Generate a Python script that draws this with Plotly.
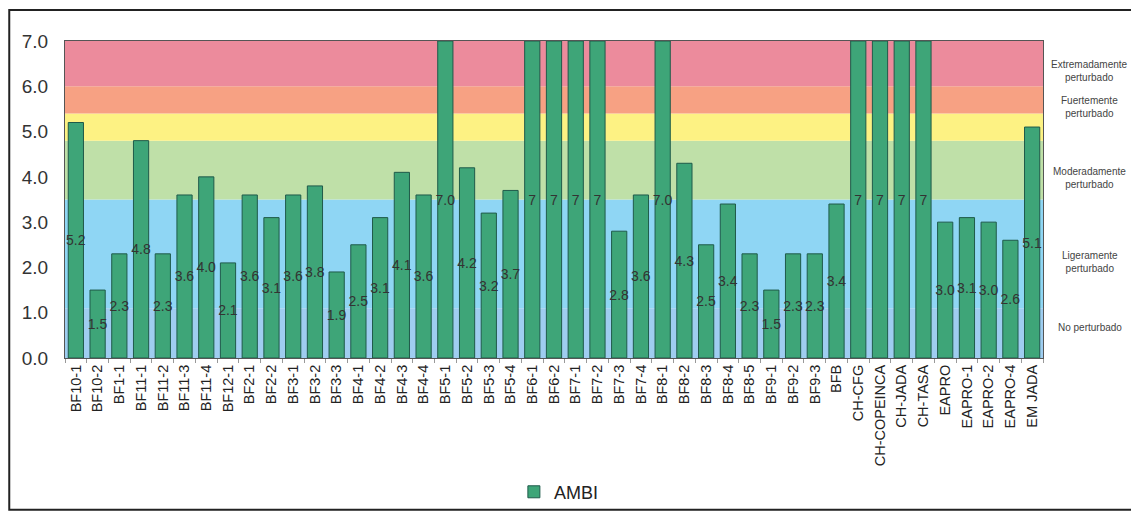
import plotly.graph_objects as go

categories = ["BF10-1", "BF10-2", "BF1-1", "BF11-1", "BF11-2", "BF11-3", "BF11-4", "BF12-1",
              "BF2-1", "BF2-2", "BF3-1", "BF3-2", "BF3-3", "BF4-1", "BF4-2", "BF4-3", "BF4-4",
              "BF5-1", "BF5-2", "BF5-3", "BF5-4", "BF6-1", "BF6-2", "BF7-1", "BF7-2", "BF7-3",
              "BF7-4", "BF8-1", "BF8-2", "BF8-3", "BF8-4", "BF8-5", "BF9-1", "BF9-2", "BF9-3",
              "BFB", "CH-CFG", "CH-COPEINCA", "CH-JADA", "CH-TASA", "EAPRO", "EAPRO-1",
              "EAPRO-2", "EAPRO-4", "EM JADA"]
ambi = [5.2, 1.5, 2.3, 4.8, 2.3, 3.6, 4.0, 2.1,
        3.6, 3.1, 3.6, 3.8, 1.9, 2.5, 3.1, 4.1, 3.6,
        7.0, 4.2, 3.2, 3.7, 7, 7, 7, 7, 2.8,
        3.6, 7.0, 4.3, 2.5, 3.4, 2.3, 1.5, 2.3, 2.3,
        3.4, 7, 7, 7, 7, 3.0, 3.1,
        3.0, 2.6, 5.1]
labels = ["5.2", "1.5", "2.3", "4.8", "2.3", "3.6", "4.0", "2.1",
          "3.6", "3.1", "3.6", "3.8", "1.9", "2.5", "3.1", "4.1", "3.6",
          "7.0", "4.2", "3.2", "3.7", "7", "7", "7", "7", "2.8",
          "3.6", "7.0", "4.3", "2.5", "3.4", "2.3", "1.5", "2.3", "2.3",
          "3.4", "7", "7", "7", "7", "3.0", "3.1",
          "3.0", "2.6", "5.1"]

band_bounds = [0.0, 1.1, 3.5, 4.8, 5.4, 6.0, 7.0]
band_colors = ["#9fcdf0", "#8fd6f4", "#bfe0a8", "#fdf283", "#f7a183", "#ec8b9c"]
band_names = ["No perturbado", "Ligeramente<br>perturbado", "Moderadamente<br>perturbado",
              "Fuertemente<br>perturbado", "Extremadamente<br>perturbado"]
band_label_y = [0.68, 2.12, 3.97, 5.54, 6.34]

fig = go.Figure()
fig.add_trace(go.Bar(
    x=categories, y=ambi, name="AMBI",
    marker=dict(color="#3ea578", line=dict(color="#1f5a4a", width=1)),
    text=labels, textposition="inside", insidetextanchor="middle",
    textangle=0, constraintext="none",
    textfont=dict(family="Arial, Liberation Sans", size=14, color="#333333"),
))

shapes = []
for i, c in enumerate(band_colors):
    shapes.append(dict(type="rect", xref="paper", yref="y", x0=0, x1=1,
                       y0=band_bounds[i], y1=band_bounds[i + 1],
                       fillcolor=c, line=dict(width=0), layer="below"))
# outer frame
shapes.append(dict(type="rect", xref="paper", yref="paper",
                   x0=-0.057, x1=1.12, y0=-0.479, y1=1.098,
                   line=dict(color="#222222", width=2), fillcolor="rgba(0,0,0,0)"))

annotations = []
for name, yv in zip(band_names, band_label_y):
    annotations.append(dict(xref="paper", yref="y", x=1.048, y=yv, text=name,
                            showarrow=False, xanchor="center", yanchor="middle",
                            font=dict(family="Arial, Liberation Sans", size=10, color="#444444")))

fig.update_layout(
    width=1131, height=505,
    margin=dict(l=57, r=96, t=33, b=155, autoexpand=False),
    paper_bgcolor="white", plot_bgcolor="rgba(0,0,0,0)",
    bargap=0.3,
    shapes=shapes, annotations=annotations,
    showlegend=True,
    legend=dict(orientation="h", x=0.505, xanchor="center", y=-0.423, yanchor="middle",
                bgcolor="rgba(0,0,0,0)", itemwidth=30,
                font=dict(family="Arial, Liberation Sans", size=18, color="#222222")),
    font=dict(family="Arial, Liberation Sans"),
)
fig.update_yaxes(range=[0, 7], tickvals=[0, 1, 2, 3, 4, 5, 6, 7], tickformat=".1f",
                 tickfont=dict(size=19, color="#333333"), showgrid=False, automargin=False,
                 ticklabelstandoff=12,
                 showline=True, mirror=True, linecolor="#555555", linewidth=1,
                 ticks="", zeroline=False)
fig.update_xaxes(tickangle=-90, tickfont=dict(size=14.5, color="#222222"), automargin=False,
                 showline=True, mirror=True, linecolor="#555555", linewidth=1,
                 ticks="outside", tickson="boundaries", ticklen=4, tickcolor="#999999",
                 showgrid=False)

fig.write_html("out.html")
